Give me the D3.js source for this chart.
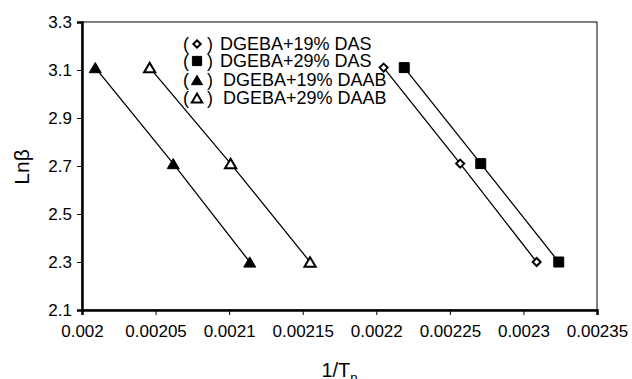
<!DOCTYPE html>
<html lang="en">
<head>
    <meta charset="UTF-8">
    <title>Ln beta vs 1/Tp</title>
    <script src="https://d3js.org/d3.v7.min.js"></script>
    <style>
        body { margin: 0; background: #fff; }
        svg { display: block; font-family: "Liberation Sans", Arial, sans-serif; }
    </style>
</head>
<body>
    <svg width="632" height="379"></svg>
    <script>
        // values
        const seriesNames = ["DGEBA+19% DAS", "DGEBA+29% DAS", "DGEBA+19% DAAB", "DGEBA+29% DAAB"];
        const lnBeta = [3.11, 2.71, 2.30];
        const invTp19DAS = [0.002205, 0.002257, 0.002309];
        const invTp29DAS = [0.002219, 0.002271, 0.002324];
        const invTp19DAAB = [0.002009, 0.002062, 0.002114];
        const invTp29DAAB = [0.002046, 0.002101, 0.002155];
        const xTicks = [0.002, 0.00205, 0.0021, 0.00215, 0.0022, 0.00225, 0.0023, 0.00235];
        const yTicks = [2.1, 2.3, 2.5, 2.7, 2.9, 3.1, 3.3];

        const svg = d3.select("svg"),
              margin = {top: 22, right: 35, bottom: 69, left: 82},
              width = +svg.attr("width") - margin.left - margin.right,
              height = +svg.attr("height") - margin.top - margin.bottom;

        const g = svg.append("g")
            .attr("transform", `translate(${margin.left},${margin.top})`);

        const x = d3.scaleLinear().domain([0.002, 0.00235]).range([0, width]);
        const y = d3.scaleLinear().domain([2.1, 3.3]).range([height, 0]);

        // plot frame: thin top/right, heavy left/bottom
        g.append("rect")
            .attr("width", width).attr("height", height)
            .attr("fill", "none").attr("stroke", "#000").attr("stroke-width", 1);

        const xAxis = g.append("g")
            .attr("transform", `translate(0,${height})`)
            .call(d3.axisBottom(x).tickValues(xTicks).tickSize(5).tickPadding(10)
                .tickFormat(d => String(+d.toFixed(5))));
        const yAxis = g.append("g")
            .call(d3.axisLeft(y).tickValues(yTicks).tickSize(5).tickPadding(5)
                .tickFormat(d3.format(".1f")));

        [xAxis, yAxis].forEach(a => {
            a.select(".domain").attr("stroke-width", 2.5);
            a.selectAll(".tick line").attr("stroke-width", 1);
            a.selectAll("text").attr("font-size", 17)
                .attr("font-family", "Liberation Sans, Arial, sans-serif").attr("fill", "#000");
        });

        // triangle centred on its bounding box like the spreadsheet marker
        const tri = {
            draw(ctx, size) {
                const w = Math.sqrt(size) * 1.5, h = w * 0.85;
                ctx.moveTo(0, -h / 2);
                ctx.lineTo(w / 2, h / 2);
                ctx.lineTo(-w / 2, h / 2);
                ctx.closePath();
            }
        };
        const diamond = {
            draw(ctx, size) {
                const r = Math.sqrt(size) / 2;
                ctx.moveTo(0, -r);
                ctx.lineTo(r, 0);
                ctx.lineTo(0, r);
                ctx.lineTo(-r, 0);
                ctx.closePath();
            }
        };

        const series = [
            {name: seriesNames[0], xs: invTp19DAS, sym: diamond, size: 64, fill: "#fff", sw: 2},
            {name: seriesNames[1], xs: invTp29DAS, sym: d3.symbolSquare, size: 100, fill: "#000", sw: 1},
            {name: seriesNames[2], xs: invTp19DAAB, sym: tri, size: 64, fill: "#000", sw: 1},
            {name: seriesNames[3], xs: invTp29DAAB, sym: tri, size: 56, fill: "#fff", sw: 2}
        ];

        const line = d3.line().x(d => x(d[0])).y(d => y(d[1]));

        series.forEach(s => {
            const pts = s.xs.map((v, i) => [v, lnBeta[i]]);
            g.append("path")
                .datum(pts)
                .attr("d", line)
                .attr("fill", "none")
                .attr("stroke", "#000")
                .attr("stroke-width", 1.3);
            g.selectAll(null)
                .data(pts)
                .enter().append("path")
                .attr("transform", d => `translate(${x(d[0])},${y(d[1])})`)
                .attr("d", d3.symbol(s.sym, s.size))
                .attr("fill", s.fill)
                .attr("stroke", "#000")
                .attr("stroke-width", s.sw);
        });

        // legend written as "( marker ) name"
        const legendRows = [44, 61, 80, 98];
        const labelX = [220, 220, 223, 223];
        const legend = svg.append("g");
        series.forEach((s, i) => {
            const row = legend.append("g").attr("transform", `translate(0,${legendRows[i]})`);
            row.append("text").attr("x", 183).attr("y", 6).attr("font-size", 18).text("(");
            row.append("path")
                .attr("transform", `translate(197,0)`)
                .attr("d", d3.symbol(s.sym, s.size * 0.85))
                .attr("fill", s.fill)
                .attr("stroke", "#000")
                .attr("stroke-width", s.sw);
            row.append("text").attr("x", 207).attr("y", 6).attr("font-size", 18).text(")");
            row.append("text").attr("x", labelX[i]).attr("y", 6).attr("font-size", 18).text(s.name);
        });

        // axis titles
        svg.append("text")
            .attr("transform", "translate(29,167) rotate(-90)")
            .attr("text-anchor", "middle")
            .attr("font-size", 21)
            .text("Lnβ");

        const xt = svg.append("text")
            .attr("x", margin.left + width / 2)
            .attr("y", 377)
            .attr("text-anchor", "middle")
            .attr("font-size", 20);
        xt.append("tspan").text("1/T");
        xt.append("tspan").attr("font-size", 13).attr("dy", 5).text("p");
    </script>
</body>
</html>
